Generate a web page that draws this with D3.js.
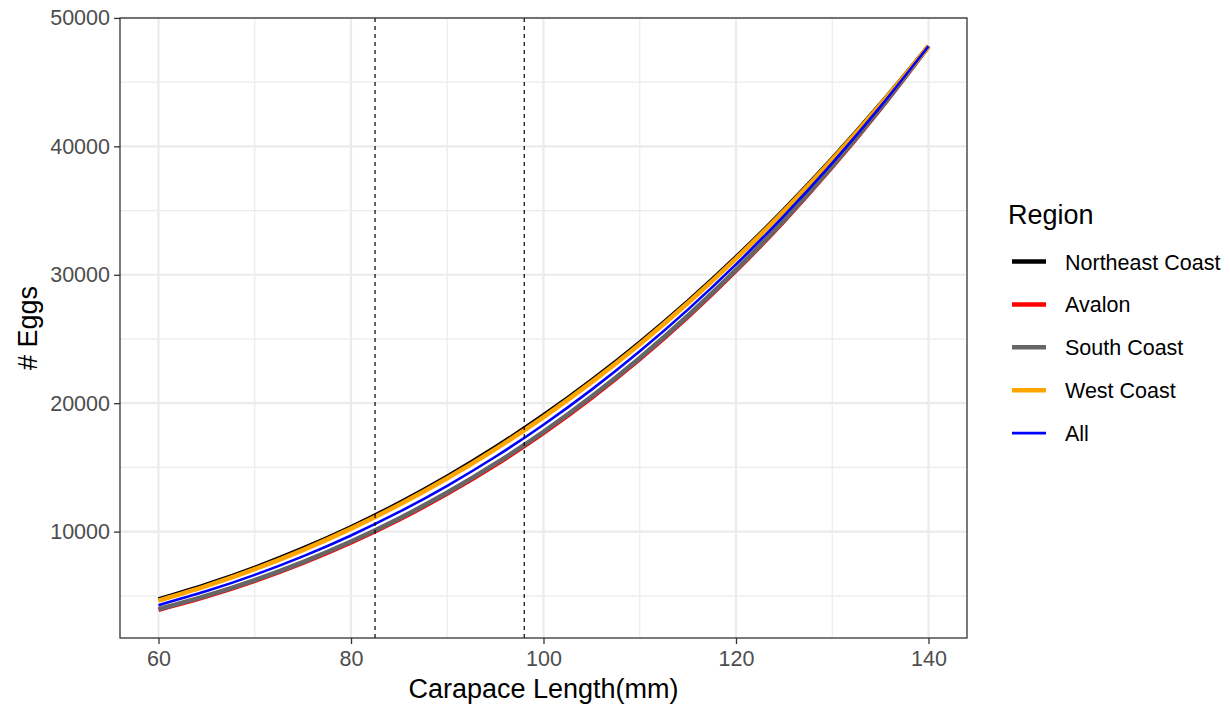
<!DOCTYPE html>
<html>
<head>
<meta charset="utf-8">
<script src="https://cdn.jsdelivr.net/npm/d3@7"></script>
<style>
  html, body { margin: 0; padding: 0; background: #fff; }
  svg { display: block; font-family: "Liberation Sans", Arial, sans-serif; }
</style>
</head>
<body>
<svg id="chart" width="1230" height="704"></svg>
<script>
// Carapace length (mm) at which each fecundity curve is sampled
const lengths = [60, 65, 70, 75, 80, 85, 90, 95, 100, 105, 110, 115, 120, 125, 130, 135, 140];

// Predicted egg counts per region
const northeastEggs = [4710, 5863, 7180, 8671, 10345, 12210, 14277, 16552, 19044, 21763, 24716, 27911, 31357, 35060, 39030, 43274, 47800];
const avalonEggs    = [3909, 4952, 6164, 7558, 9146, 10941, 12954, 15198, 17686, 20428, 23439, 26729, 30311, 34197, 38399, 42929, 47800];
const southEggs     = [3959, 5009, 6229, 7629, 9224, 11023, 13040, 15287, 17775, 20517, 23524, 26808, 30381, 34255, 38442, 42953, 47800];
const westEggs      = [4631, 5773, 7081, 8563, 10230, 12089, 14151, 16424, 18917, 21638, 24597, 27801, 31260, 34981, 38973, 43243, 47800];
const allEggs       = [4273, 5367, 6630, 8070, 9700, 11529, 13569, 15830, 18322, 21055, 24040, 27287, 30806, 34606, 38699, 43094, 47800];

const regionNames = ["Northeast Coast", "Avalon", "South Coast", "West Coast", "All"];
const regionColors = ["#000000", "#FF0000", "#666666", "#FFA500", "#0000FF"];
const regionWidths = [4.5, 4.5, 4.5, 4.5, 2.6];
const regionValues = [northeastEggs, avalonEggs, southEggs, westEggs, allEggs];

// Reference carapace lengths marked with dashed lines
const refLengths = [82.5, 98];

const xTicks = [60, 80, 100, 120, 140];
const xMinor = [70, 90, 110, 130];
const yTicks = [10000, 20000, 30000, 40000, 50000];
const yMinor = [5000, 15000, 25000, 35000, 45000];

const svg = d3.select("#chart");
const panel = { left: 120, right: 967, top: 18, bottom: 638 };

const xScale = d3.scaleLinear().domain([56, 144]).range([panel.left, panel.right]);
const allVals = regionValues.flat();
const yMin = d3.min(allVals), yMax = d3.max(allVals);
const yPad = (yMax - yMin) * 0.05;
const yScale = d3.scaleLinear().domain([yMin - yPad, yMax + yPad]).range([panel.bottom, panel.top]);

const gridColor = "#EBEBEB";
const g = svg.append("g");

// minor grid
g.selectAll(".xminor").data(xMinor).join("line")
  .attr("x1", d => xScale(d)).attr("x2", d => xScale(d))
  .attr("y1", panel.top).attr("y2", panel.bottom)
  .attr("stroke", gridColor).attr("stroke-width", 1.2);
g.selectAll(".yminor").data(yMinor).join("line")
  .attr("x1", panel.left).attr("x2", panel.right)
  .attr("y1", d => yScale(d)).attr("y2", d => yScale(d))
  .attr("stroke", gridColor).attr("stroke-width", 1.2);
// major grid
g.selectAll(".xmajor").data(xTicks).join("line")
  .attr("x1", d => xScale(d)).attr("x2", d => xScale(d))
  .attr("y1", panel.top).attr("y2", panel.bottom)
  .attr("stroke", gridColor).attr("stroke-width", 2.2);
g.selectAll(".ymajor").data(yTicks).join("line")
  .attr("x1", panel.left).attr("x2", panel.right)
  .attr("y1", d => yScale(d)).attr("y2", d => yScale(d))
  .attr("stroke", gridColor).attr("stroke-width", 2.2);

// fecundity curves
const line = d3.line()
  .x((d, i) => xScale(lengths[i]))
  .y(d => yScale(d))
  .curve(d3.curveMonotoneX);

regionValues.forEach((vals, k) => {
  g.append("path")
    .attr("d", line(vals))
    .attr("fill", "none")
    .attr("stroke", regionColors[k])
    .attr("stroke-width", regionWidths[k])
    .attr("stroke-linejoin", "round");
});

// reference lines
g.selectAll(".ref").data(refLengths).join("line")
  .attr("x1", d => xScale(d)).attr("x2", d => xScale(d))
  .attr("y1", panel.top).attr("y2", panel.bottom)
  .attr("stroke", "#000").attr("stroke-width", 1.2)
  .attr("stroke-dasharray", "4,4");

// panel border
g.append("rect")
  .attr("x", panel.left).attr("y", panel.top)
  .attr("width", panel.right - panel.left).attr("height", panel.bottom - panel.top)
  .attr("fill", "none").attr("stroke", "#333333").attr("stroke-width", 1.3);

// axes
const xAxis = d3.axisBottom(xScale).tickValues(xTicks).tickSize(6).tickPadding(7).tickFormat(d3.format("d"));
const yAxis = d3.axisLeft(yScale).tickValues(yTicks).tickSize(6).tickPadding(4).tickFormat(d3.format("d"));

const gx = svg.append("g").attr("transform", `translate(0,${panel.bottom})`).call(xAxis);
const gy = svg.append("g").attr("transform", `translate(${panel.left},0)`).call(yAxis);
[gx, gy].forEach(a => {
  a.select(".domain").remove();
  a.selectAll(".tick line").attr("stroke", "#333333").attr("stroke-width", 1.3);
  a.selectAll(".tick text").attr("fill", "#4D4D4D").style("font-size", "21.5px")
    .style("font-family", "'Liberation Sans', Arial, sans-serif");
});

// axis titles
svg.append("text")
  .attr("x", (panel.left + panel.right) / 2).attr("y", 698)
  .attr("text-anchor", "middle").style("font-size", "27px").attr("fill", "#000")
  .text("Carapace Length(mm)");
svg.append("text")
  .attr("transform", `translate(37,${(panel.top + panel.bottom) / 2}) rotate(-90)`)
  .attr("text-anchor", "middle").style("font-size", "27px").attr("fill", "#000")
  .text("# Eggs");

// legend
const legend = svg.append("g").attr("transform", "translate(1008,0)");
legend.append("text").attr("x", 0).attr("y", 224)
  .style("font-size", "27px").attr("fill", "#000").text("Region");
const item = legend.selectAll(".item").data(regionNames).join("g")
  .attr("transform", (d, i) => `translate(0,${261.5 + i * 42.9})`);
item.append("line")
  .attr("x1", 4).attr("x2", 38).attr("y1", 0).attr("y2", 0)
  .attr("stroke", (d, i) => regionColors[i])
  .attr("stroke-width", (d, i) => regionWidths[i]);
item.append("text").attr("x", 57).attr("y", 8)
  .style("font-size", "21.5px").attr("fill", "#000").text(d => d);
</script>
</body>
</html>
